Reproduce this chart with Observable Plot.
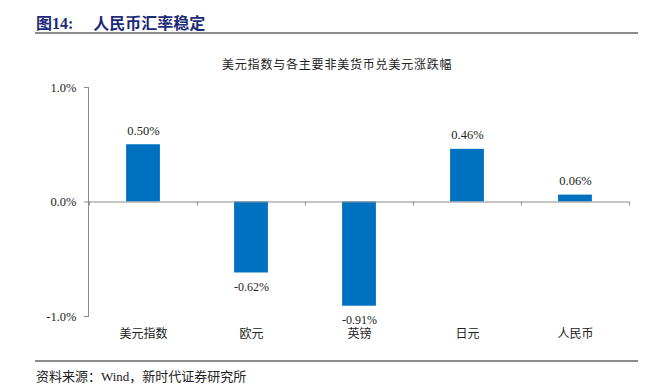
<!DOCTYPE html>
<html>
<head>
<meta charset="utf-8">
<script src="https://cdn.jsdelivr.net/npm/d3@7"></script>
<script src="https://cdn.jsdelivr.net/npm/@observablehq/plot@0.6"></script>
<style>
  html, body { margin: 0; padding: 0; background: #fff; }
  #wrap { position: relative; width: 656px; height: 391px; overflow: hidden; font-family: "Liberation Serif", "Noto Sans CJK SC", serif; }
  #chart { position: absolute; left: 0; top: 0; }
  .abs { position: absolute; white-space: pre; }
  #title { left: 36px; top: 10px; font-size: 16px; font-weight: bold; color: #1c2a78; }
  #title span { margin-left: 20px; }
  .rule { position: absolute; left: 35px; width: 603px; height: 2px; background: #8c8c8c; }
  #subtitle { left: 222px; top: 55px; font-size: 12px; letter-spacing: 0.8px; color: #222; }
  #caption { left: 36px; top: 366px; font-size: 13px; color: #222; }
</style>
</head>
<body>
<div id="wrap">
  <div id="chart"></div>
  <div id="title" class="abs">图14:<span>人民币汇率稳定</span></div>
  <div class="rule" style="top:32px"></div>
  <div id="subtitle" class="abs">美元指数与各主要非美货币兑美元涨跌幅</div>
  <div class="rule" style="top:360px"></div>
  <div id="caption" class="abs">资料来源：Wind，新时代证券研究所</div>
</div>
<script>
const categories = ["美元指数", "欧元", "英镑", "日元", "人民币"];
const values = [0.50, -0.62, -0.91, 0.46, 0.06];
const yTicks = [-1, 0, 1];

const data = categories.map((c, i) => ({cat: c, val: values[i]}));

const W = 656, H = 391, mL = 88, mR = 27, mT = 87, mB = 75;
const step = (W - mL - mR) / categories.length;
const barW = 34;
const inset = (step - barW) / 2;
const font = '"Liberation Serif", "Noto Sans CJK SC", serif';
const axisGray = "#8c8c8c";

const chart = Plot.plot({
  width: W,
  height: H,
  marginLeft: mL,
  marginRight: mR,
  marginTop: mT,
  marginBottom: mB,
  style: {fontFamily: font, color: "#222", background: "transparent"},
  x: {domain: categories, padding: 0},
  y: {domain: [-1, 1]},
  marks: [
    Plot.barY(data, {x: "cat", y: "val", fill: "#0070C0", insetLeft: inset, insetRight: inset}),
    Plot.ruleY([0], {stroke: axisGray, strokeWidth: 1}),
    Plot.frame({anchor: "left", stroke: axisGray}),
    Plot.ruleX(categories, {x: d => d, dx: -step / 2, y1: 0, y2: -0.035, stroke: axisGray}),
    Plot.ruleX(categories.slice(-1), {x: d => d, dx: step / 2, y1: 0, y2: -0.035, stroke: axisGray}),
    Plot.axisY({ticks: yTicks, tickFormat: d => d.toFixed(1) + "%", tickSize: 4, tickPadding: 8, stroke: axisGray, fontSize: 12.5, label: null, fill: "#222"}),
    Plot.axisX({tickSize: 0, tickPadding: 13, fontSize: 12, label: null, fill: "#222"}),
    Plot.text(data.filter(d => d.val >= 0), {x: "cat", y: "val", text: d => d.val.toFixed(2) + "%", dy: -14, fontSize: 12.5, fill: "#222"}),
    Plot.text(data.filter(d => d.val < 0), {x: "cat", y: "val", text: d => d.val.toFixed(2) + "%", dy: 14, fontSize: 12, fill: "#222"})
  ]
});
document.getElementById("chart").appendChild(chart);
</script>
</body>
</html>
